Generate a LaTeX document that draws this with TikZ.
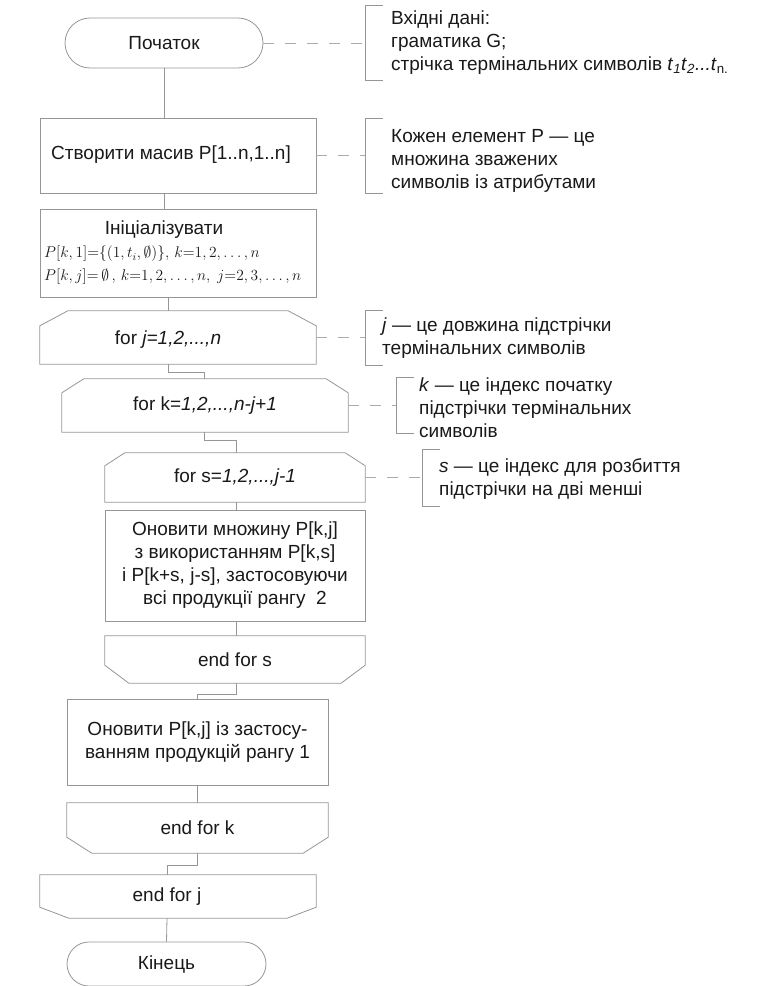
\RequirePackage{fix-cm}
\documentclass[tikz,border=0pt]{standalone}
\usepackage{fontspec}
\setmainfont{Liberation Sans}
\usepackage{amssymb}
\usetikzlibrary{shapes.misc}

\definecolor{linegray}{RGB}{150,150,150}
\definecolor{inkgray}{RGB}{25,25,25}
\newcommand{\flowfont}{\fontsize{19}{23}\selectfont}
\newcommand{\mathsize}{\fontsize{15.5}{23}\selectfont}

% loop start: top corners cut, loop end: bottom corners cut
\newcommand{\loopopen}[3]{%
  \draw[boxline] (#1.south west) -- ([yshift=-#3]#1.north west) -- ([xshift=#2]#1.north west)
    -- ([xshift=-#2]#1.north east) -- ([yshift=-#3]#1.north east) -- (#1.south east) -- cycle;}
\newcommand{\loopclose}[3]{%
  \draw[boxline] (#1.north west) -- ([yshift=#3]#1.south west) -- ([xshift=#2]#1.south west)
    -- ([xshift=-#2]#1.south east) -- ([yshift=#3]#1.south east) -- (#1.north east) -- cycle;}
% comment bracket at the end of a dashed line
\newcommand{\notebracket}[2]{%
  \draw[bracketline] ([shift={(18,-#2)}]#1) -- ([shift={(0,-#2)}]#1)
    -- ([shift={(0,#2)}]#1) -- ([shift={(18,#2)}]#1);}

\begin{document}
\begin{tikzpicture}[x=1pt, y=-1pt,
    boxline/.style={draw=linegray, line width=0.8pt},
    procbox/.style={boxline, rectangle, inner sep=0pt, align=center, font=\flowfont, text=inkgray},
    termbox/.style={boxline, rounded rectangle, inner sep=0pt, font=\flowfont, text=inkgray},
    loopbox/.style={rectangle, inner sep=0pt, align=center, font=\flowfont, text=inkgray},
    steptext/.style={inner sep=2pt, align=center, font=\flowfont, text=inkgray},
    notetext/.style={anchor=west, inner sep=2pt, align=left, font=\flowfont, text=inkgray},
    flowline/.style={draw=linegray, line width=0.8pt},
    noteline/.style={draw=linegray!80, line width=0.8pt, dash pattern=on 11pt off 11pt},
    bracketline/.style={draw=linegray, line width=0.8pt}
]
\useasboundingbox (0,0) rectangle (757,986);

    % 1. Start and the input data
    \node[termbox, minimum width=198pt, minimum height=50pt] (start) at (164,43) {Початок};
    \coordinate (b1) at (365,43);
    \node[notetext] (note1) at (389,43) {Вхідні дані:\\граматика G;\\стрічка термінальних символів
        \textit{t}\textsubscript{\textit{1}}\textit{t}\textsubscript{\textit{2}}\textit{...t}\textsubscript{n.}};

    % 2. The array P
    \node[procbox, minimum width=276pt, minimum height=75pt] (create) at (178,155.5) {};
    \node[steptext] (create-text) at (171,155) {Створити масив P[1..n,1..n]};
    \coordinate (b2) at (365,155.5);
    \node[notetext] (note2) at (389,161) {Кожен елемент P — це\\множина зважених\\символів із атрибутами};

    % 3. Initialisation
    \node[procbox, minimum width=276pt, minimum height=88pt] (init) at (178,253) {};
    \node[steptext] (init-title) at (164,230) {Ініціалізувати};
    \node[steptext, anchor=west, align=left, font=\mathsize] (init-math) at (42,265.5)
        {$P[k,1]{=}\{(1,t_i,\emptyset)\},\,k{=}1,2,\ldots,n$\\
         $P[k,j]{=}\,\emptyset\,,\,k{=}1,2,\ldots,n,\ j{=}2,3,\ldots,n$};

    % 4. The loops
    \node[loopbox, minimum width=276pt, minimum height=53pt] (forj) at (178,337.5) {};
    \node[steptext] (forj-text) at (168,340) {for \textit{j=1,2,...,n}};
    \loopopen{forj}{28pt}{15pt}
    \coordinate (b3) at (365,337.5);
    \node[notetext] (note3) at (380,338.5) {\textit{j} — це довжина підстрічки\\термінальних символів};

    \node[loopbox, minimum width=286pt, minimum height=53pt] (fork) at (205,405.5) {for k=\textit{1,2,...,n-j+1}};
    \loopopen{fork}{22pt}{14pt}
    \coordinate (b4) at (396,405.5);
    \node[notetext] (note4) at (417,408) {\textit{k} — це індекс початку\\підстрічки термінальних\\символів};

    \node[loopbox, minimum width=260pt, minimum height=49pt] (fors) at (235,477.5) {for s=\textit{1,2,...,j-1}};
    \loopopen{fors}{20pt}{13pt}
    \coordinate (b5) at (422,477.5);
    \node[notetext] (note5) at (437,479) {\textit{s} — це індекс для розбиття\\підстрічки на дві менші};

    \node[procbox, minimum width=260pt, minimum height=111pt] (update) at (235,565.5)
        {Оновити множину P[k,j]\\з використанням P[k,s]\\і P[k+s, j-s], застосовуючи\\всі продукції рангу~~2};

    \node[loopbox, minimum width=260pt, minimum height=47pt] (ends) at (235,659.5) {end for s};
    \loopclose{ends}{24pt}{18pt}

    \node[procbox, minimum width=261pt, minimum height=86pt] (rank1) at (197.5,742)
        {Оновити P[k,j] із застосу-\\ванням продукцій рангу 1};

    \node[loopbox, minimum width=261pt, minimum height=50pt] (endk) at (197.5,828) {end for k};
    \loopclose{endk}{25pt}{16pt}

    \node[loopbox, minimum width=276pt, minimum height=43pt] (endj) at (178,896.5) {};
    \node[steptext] (endj-text) at (167,897) {end for j};
    \loopclose{endj}{29pt}{11pt}

    % 5. End
    \node[termbox, minimum width=199pt, minimum height=44pt] (finish) at (166.5,964) {Кінець};

    % The connections
    \draw[flowline] (start.south) -- ([xshift=-14pt]create.north);
    \draw[flowline] ([xshift=-14pt]create.south) -- ([xshift=-14pt]init.north);
    \draw[flowline] ([xshift=-10pt]init.south) -- ([xshift=-10pt]forj.north);
    \draw[flowline] ([xshift=-10pt]forj.south) -- ++(0,8) -| ([xshift=-1pt]fork.north);
    \draw[flowline] ([xshift=-1pt]fork.south) -- ++(0,8) -| ([xshift=1pt]fors.north);
    \draw[flowline] ([xshift=1pt]fors.south) -- ([xshift=1pt]update.north);
    \draw[flowline] ([xshift=1pt]update.south) -- ([xshift=1pt]ends.north);
    \draw[flowline] ([xshift=1pt]ends.south) -- ++(0,11) -| (rank1.north);
    \draw[flowline] (rank1.south) -- (endk.north);
    \draw[flowline] (endk.south) -- ++(0,12) -| ([xshift=-11pt]endj.north);
    \draw[flowline] ([xshift=-11pt]endj.south) -- (finish.north);

    % The comments
    \draw[noteline] (start.east) -- (b1);
    \notebracket{b1}{37.5}
    \draw[noteline] (create.east) -- (b2);
    \notebracket{b2}{37.5}
    \draw[noteline] (forj.east) -- (b3);
    \notebracket{b3}{27.5}
    \draw[noteline] (fork.east) -- (b4);
    \notebracket{b4}{28}
    \draw[noteline] (fors.east) -- (b5);
    \notebracket{b5}{28.5}

\end{tikzpicture}
\end{document}
